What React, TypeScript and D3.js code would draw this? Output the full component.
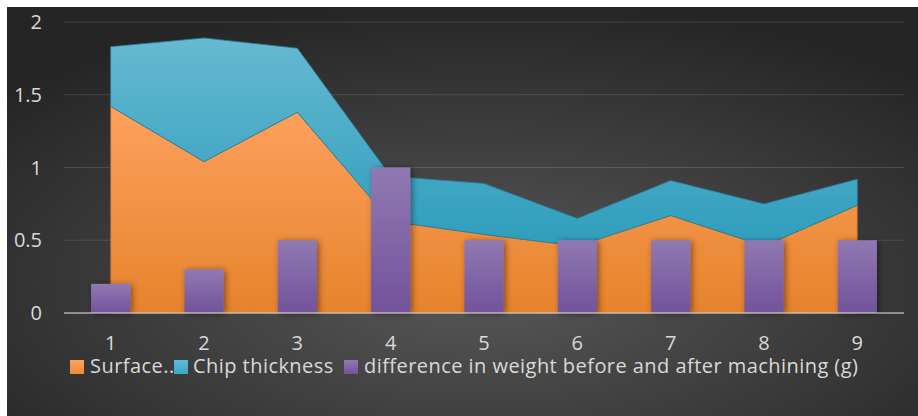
import React from "react";
import * as d3 from "d3";

const categories = ["1", "2", "3", "4", "5", "6", "7", "8", "9"];
const surface = [1.42, 1.04, 1.38, 0.63, 0.54, 0.46, 0.67, 0.46, 0.74];
const chipThickness = [0.41, 0.85, 0.44, 0.31, 0.35, 0.19, 0.24, 0.29, 0.18];
const weightDiff = [0.2, 0.3, 0.5, 1, 0.5, 0.5, 0.5, 0.5, 0.5];
const yTicks = [0, 0.5, 1, 1.5, 2];
const seriesNames = ["Surface..", "Chip thickness", "difference in weight before and after machining (g)"];

const W = 918;
const H = 416;
const FONT = "'Open Sans', 'Noto Sans', sans-serif";

export default function App() {
  const x = d3.scaleBand<string>().domain(categories).range([64, 904]).paddingInner(0.58).paddingOuter(0.29);
  const y = d3.scaleLinear().domain([0, 2]).range([313, 22]);
  const cx = (c: string) => (x(c) as number) + x.bandwidth() / 2;

  const rows = categories.map((c, i) => ({ c, s: surface[i], t: surface[i] + chipThickness[i] }));
  const surfArea = d3.area<any>().x((d) => cx(d.c)).y0(y(0)).y1((d) => y(d.s));
  const chipArea = d3.area<any>().x((d) => cx(d.c)).y0((d) => y(d.s)).y1((d) => y(d.t));

  const legendSq = [70, 174, 344];
  const legendTx = [90, 193, 364];
  const legendFill = ["url(#gOrangeL)", "url(#gCyanL)", "url(#gPurple)"];

  return (
    <svg width={W} height={H} style={{ position: "absolute", left: 0, top: 0 }}>
      <defs>
        <radialGradient id="bg" cx="52%" cy="68%" r="70%">
          <stop offset="0%" stopColor="#585858" />
          <stop offset="100%" stopColor="#252525" />
        </radialGradient>
        <linearGradient id="gOrange" x1="0" y1="0" x2="0" y2="1">
          <stop offset="0%" stopColor="#fda15e" />
          <stop offset="100%" stopColor="#e6832c" />
        </linearGradient>
        <linearGradient id="gCyan" x1="0" y1="0" x2="0" y2="1">
          <stop offset="0%" stopColor="#66b9d1" />
          <stop offset="100%" stopColor="#2f9dbd" />
        </linearGradient>
        <linearGradient id="gOrangeL" x1="0" y1="0" x2="0" y2="1">
          <stop offset="0%" stopColor="#fca35f" />
          <stop offset="100%" stopColor="#ee8a34" />
        </linearGradient>
        <linearGradient id="gCyanL" x1="0" y1="0" x2="0" y2="1">
          <stop offset="0%" stopColor="#5dbbd6" />
          <stop offset="100%" stopColor="#3aa8c8" />
        </linearGradient>
        <linearGradient id="gPurple" x1="0" y1="0" x2="0" y2="1">
          <stop offset="0%" stopColor="#9079b2" />
          <stop offset="100%" stopColor="#72539b" />
        </linearGradient>
        <filter id="shadow" x="-30%" y="-10%" width="160%" height="130%">
          <feDropShadow dx="2" dy="1" stdDeviation="3" floodColor="#000" floodOpacity="0.45" />
        </filter>
      </defs>
      <rect x={0} y={0} width={W} height={H} fill="#fff" />
      <rect x={7} y={7} width={W - 7} height={H - 7} fill="url(#bg)" />

      {yTicks.filter((t) => t > 0).map((t) => (
        <line key={t} x1={64} x2={904} y1={y(t)} y2={y(t)} stroke="#ffffff" strokeOpacity={0.13} strokeWidth={1.2} />
      ))}

      <path d={surfArea(rows) as string} fill="url(#gOrange)" stroke="#b8621c" strokeWidth={0.8} />
      <path d={chipArea(rows) as string} fill="url(#gCyan)" stroke="#23809c" strokeWidth={0.8} />

      <g filter="url(#shadow)">
        {categories.map((c, i) => (
          <rect key={c} x={x(c)} y={y(weightDiff[i])} width={x.bandwidth()} height={y(0) - y(weightDiff[i])} fill="url(#gPurple)" />
        ))}
      </g>

      <line x1={64} x2={904} y1={y(0)} y2={y(0)} stroke="#d9d9d9" strokeOpacity={0.55} strokeWidth={2.2} />

      {yTicks.map((t) => (
        <text key={t} x={42} y={y(t) + 7} textAnchor="end" fontFamily={FONT} fontSize={20} fill="#d9d9d9">
          {String(t)}
        </text>
      ))}
      {categories.map((c) => (
        <text key={c} x={cx(c)} y={350} textAnchor="middle" fontFamily={FONT} fontSize={20} fill="#d9d9d9">
          {c}
        </text>
      ))}

      {seriesNames.map((n, i) => (
        <g key={n}>
          <rect x={legendSq[i]} y={360} width={14} height={14} fill={legendFill[i]} />
          <text x={legendTx[i]} y={373} fontFamily={FONT} fontSize={20} letterSpacing={0.45} fill="#d9d9d9">
            {n}
          </text>
        </g>
      ))}
    </svg>
  );
}
